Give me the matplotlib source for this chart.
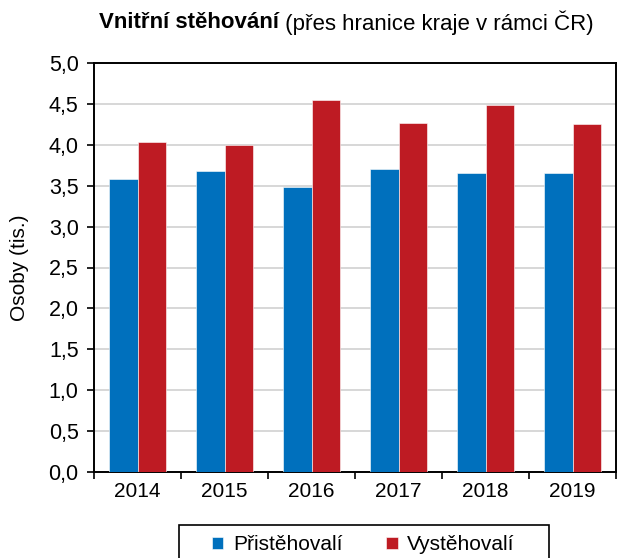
import numpy as np
import matplotlib
matplotlib.use("Agg")
import matplotlib.pyplot as plt
from matplotlib.patches import Rectangle

plt.rcParams['font.family'] = ['Liberation Sans', 'DejaVu Sans']

# data (thousands of persons)
years = ['2014', '2015', '2016', '2017', '2018', '2019']
prist = [3.58, 3.68, 3.49, 3.71, 3.65, 3.65]   # Přistěhovalí
vyst = [4.04, 4.00, 4.55, 4.27, 4.49, 4.25]    # Vystěhovalí
yticks = [0.0, 0.5, 1.0, 1.5, 2.0, 2.5, 3.0, 3.5, 4.0, 4.5, 5.0]

blue = '#0070BD'
red = '#BE1B23'

fig = plt.figure(figsize=(6.19, 5.58), dpi=100)
ax = fig.add_axes([94 / 619, 1 - 472 / 558, 522 / 619, 409 / 558])

x = np.arange(len(years))
w = 0.333
ax.bar(x - w / 2, prist, w, color=blue, edgecolor='white', linewidth=0.4,
       label='Přistěhovalí', zorder=3)
ax.bar(x + w / 2, vyst, w, color=red, edgecolor='white', linewidth=0.4,
       label='Vystěhovalí', zorder=3)

ax.set_xlim(-0.5, len(years) - 0.5)
ax.set_ylim(0, 5)
ax.set_yticks(yticks)
ax.set_yticklabels([f'{v:.1f}'.replace('.', ',') for v in yticks], fontsize=15.5)
ax.yaxis.grid(True, color='#d4d4d4', linewidth=1.3, zorder=0)

# ticks on category boundaries, labels in the middle
ax.set_xticks(np.arange(len(years) + 1) - 0.5)
ax.set_xticklabels([])
ax.set_xticks(x, minor=True)
ax.set_xticklabels(years, minor=True, fontsize=15)
ax.tick_params(axis='x', which='minor', length=0, pad=7)
ax.tick_params(axis='both', which='major', length=5, width=1.2, direction='out', color='black')
ax.tick_params(axis='y', pad=6)

for s in ax.spines.values():
    s.set_linewidth(1.4)
    s.set_color('black')

ax.set_ylabel('Osoby (tis.)', fontsize=15, labelpad=14)

# title: bold part + regular part, centred together
t1 = fig.text(0, 1 - 23 / 558, 'Vnitřní stěhování', fontsize=16, fontweight='bold',
              va='center', ha='left')
t2 = fig.text(0, 1 - 23 / 558, ' (přes hranice kraje v rámci ČR)', fontsize=16,
              va='center', ha='left')
r = fig.canvas.get_renderer()
w1 = t1.get_window_extent(r).width
w2 = t2.get_window_extent(r).width
x0 = 346 - (w1 + w2) / 2
t1.set_x(x0 / 619)
t2.set_x((x0 + w1) / 619)

# legend box runs past the bottom edge, as in the original
fig.patches.append(Rectangle((179 / 619, -0.05), 370 / 619, 0.05 + 33 / 558,
                             transform=fig.transFigure, fill=False,
                             edgecolor='black', linewidth=1.2, clip_on=False))
fig.legend(loc='center left', bbox_to_anchor=(212 / 619, 1 - 545 / 558),
           ncol=2, fontsize=15, frameon=False, handlelength=0.55,
           handleheight=0.55, columnspacing=2.1, handletextpad=0.45,
           borderpad=0, borderaxespad=0)

fig.savefig('out.png', dpi=100)
